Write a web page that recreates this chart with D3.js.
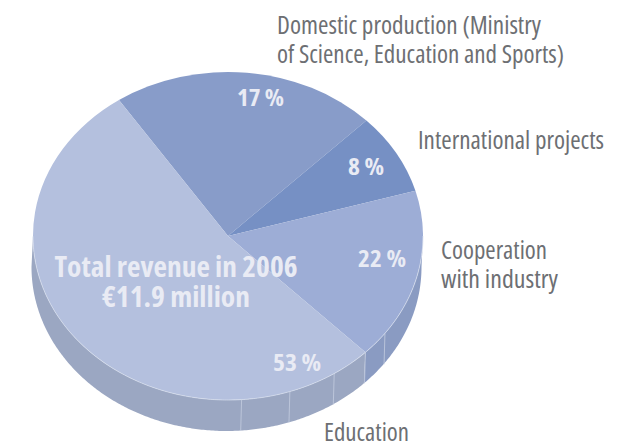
<!DOCTYPE html>
<html lang="en">
<head>
    <meta charset="UTF-8">
    <title>Total revenue in 2006</title>
    <script src="https://d3js.org/d3.v7.min.js"></script>
    <style>
        body { margin: 0; background: #fff; overflow: hidden; }
        svg { display: block; }
        text { font-family: 'Open Sans', sans-serif; font-stretch: 75%; }
        .name { fill: #6d6f73; font-size: 25px; }
        .share { fill: #e9ebf4; font-size: 23px; font-weight: bold; }
        .total { fill: #e9ebf4; font-size: 29px; font-weight: bold; text-anchor: middle; }
    </style>
</head>
<body>
    <script>
        // the slices as drawn in the source, clockwise from the Education/Domestic edge
        const sliceNames = ["Domestic", "International", "Cooperation", "Education"];
        const sliceSizes = [22, 8, 17, 53];
        const sliceLabels = ["17 %", "8 %", "22 %", "53 %"];
        const sliceColors = ["#889cc9", "#7690c4", "#9dadd6", "#b4c0de"];
        const wallColors = ["#7f92bb", "#7f92bb", "#8a9bc2", "#9ba7c2"];
        const wallSeams = [126.4, 147, 161.5, 176];

        const width = 619, height = 445;
        const cx = 228, cy = 236, rx = 195, ry = 164;
        const wallDx = -1.5, wallDy = 31;
        const startDeg = -34;
        const rad = Math.PI / 180;

        const svg = d3.select("body").append("svg")
            .attr("width", width)
            .attr("height", height);

        const slices = d3.pie().sort(null)
            .startAngle(startDeg * rad)
            .endAngle((startDeg + 360) * rad)(sliceSizes);

        const px = a => cx + rx * Math.sin(a);
        const py = a => cy - ry * Math.cos(a);

        // side wall, only the front half shows
        const wall = d3.area()
            .x0(a => px(a))
            .x1(a => px(a) + wallDx)
            .y0(a => py(a))
            .y1(a => py(a) + wallDy);

        slices.forEach((s, i) => {
            const a0 = Math.max(s.startAngle, 90 * rad);
            const a1 = Math.min(s.endAngle, 270 * rad);
            if (a1 <= a0) return;
            const steps = d3.range(a0, a1, 0.01).concat([a1]);
            svg.append("path")
                .attr("d", wall(steps))
                .attr("fill", wallColors[i]);
        });

        svg.selectAll(".seam")
            .data(wallSeams.concat([slices[2].endAngle / rad]))
            .enter().append("line")
            .attr("class", "seam")
            .attr("x1", d => px(d * rad))
            .attr("x2", d => px(d * rad) + wallDx * 0.6)
            .attr("y1", d => py(d * rad))
            .attr("y2", d => py(d * rad) + wallDy)
            .attr("stroke", "#c4cde0")
            .attr("stroke-width", 0.8);

        // top face: a circle pie squashed into an ellipse
        const arc = d3.arc().innerRadius(0).outerRadius(rx);
        svg.append("g")
            .attr("transform", `translate(${cx},${cy}) scale(1,${ry / rx})`)
            .selectAll("path")
            .data(slices)
            .enter().append("path")
            .attr("d", arc)
            .attr("fill", (d, i) => sliceColors[i]);

        // light rim along the front edge of the top face
        svg.append("path")
            .attr("d", d3.line().x(px).y(py)(d3.range(90 * rad, 270 * rad, 0.01)))
            .attr("fill", "none")
            .attr("stroke", "#d9dfee")
            .attr("stroke-width", 0.7);

        const names = [
            { x: 277, y: 34, t: "Domestic production (Ministry", w: 264 },
            { x: 277, y: 63, t: "of Science, Education and Sports)", w: 287 },
            { x: 418, y: 149, t: "International projects", w: 186 },
            { x: 441, y: 259, t: "Cooperation", w: 106 },
            { x: 441, y: 288, t: "with industry", w: 117 },
            { x: 324, y: 441, t: "Education", w: 85 }
        ];
        svg.selectAll(".name")
            .data(names)
            .enter().append("text")
            .attr("class", "name")
            .attr("x", d => d.x)
            .attr("y", d => d.y)
            .attr("textLength", d => d.w)
            .attr("lengthAdjust", "spacingAndGlyphs")
            .text(d => d.t);

        const sharePos = [
            { x: 237, y: 106, w: 47 },
            { x: 348, y: 175, w: 36 },
            { x: 358, y: 267, w: 48 },
            { x: 273, y: 371, w: 48 }
        ];
        svg.selectAll(".share")
            .data(sharePos)
            .enter().append("text")
            .attr("class", "share")
            .attr("x", d => d.x)
            .attr("y", d => d.y)
            .attr("textLength", d => d.w)
            .attr("lengthAdjust", "spacingAndGlyphs")
            .text((d, i) => sliceLabels[i]);

        svg.append("text").attr("class", "total")
            .attr("x", 176).attr("y", 277)
            .attr("textLength", 243).attr("lengthAdjust", "spacingAndGlyphs")
            .text("Total revenue in 2006");
        svg.append("text").attr("class", "total")
            .attr("x", 176).attr("y", 307)
            .attr("textLength", 148).attr("lengthAdjust", "spacingAndGlyphs")
            .text("€11.9 million");
    </script>
</body>
</html>
